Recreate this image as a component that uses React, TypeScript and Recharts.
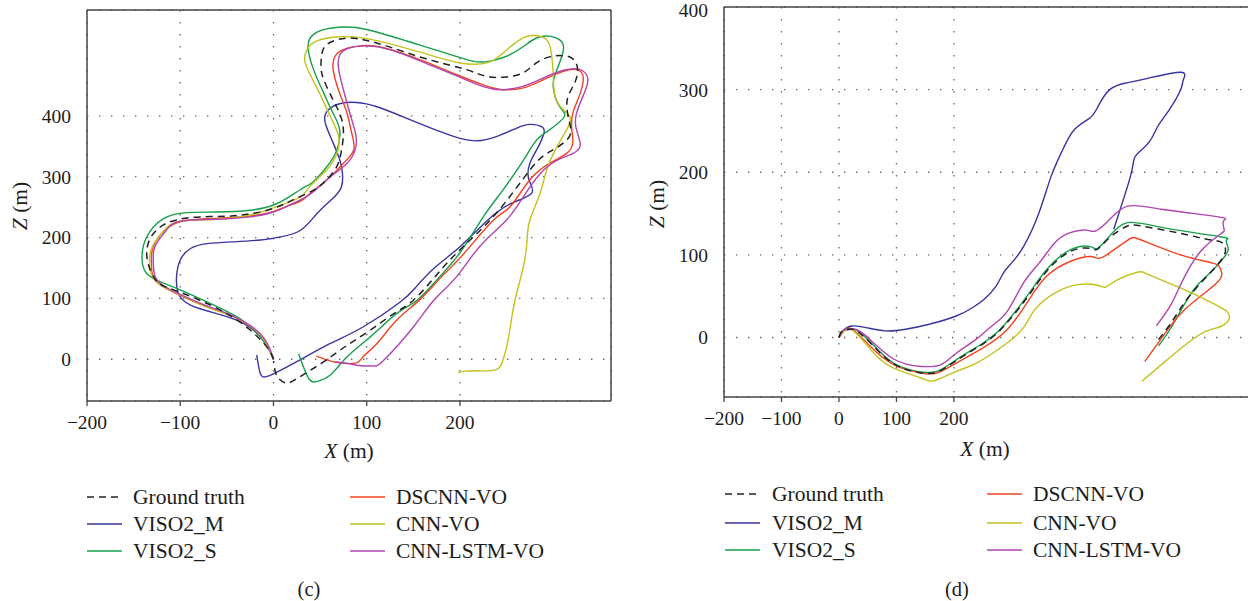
import React from 'react';
import { LineChart, Line, XAxis, YAxis, CartesianGrid, ReferenceLine } from 'recharts';

type Pt = [number, number];

// ---------- Sequence (c): X (m), Z (m) ----------
const cGroundTruth: Pt[] = [
  [0, 0], [-7, 20], [-25, 48], [-50, 75], [-79, 97], [-107, 114], [-123, 125], [-132, 146], [-136, 174],
  [-132, 199], [-121, 218], [-104, 229], [-79, 234], [-50, 235], [-25, 239], [0, 248], [21, 262], [43, 278],
  [57, 295], [68, 317], [73, 344], [75, 377], [71, 404], [64, 426], [54, 459], [51, 481], [52, 503], [57, 517],
  [68, 525], [82, 528], [100, 524], [125, 513], [161, 495], [200, 479], [218, 470], [232, 464], [250, 464],
  [268, 471], [282, 487], [296, 497], [309, 499], [320, 495], [326, 479], [323, 454], [315, 426], [317, 393],
  [318, 368], [306, 350], [293, 338], [275, 311], [239, 240], [200, 180], [174, 137], [150, 97], [129, 75],
  [104, 48], [79, 23], [54, -4], [27, -30], [14, -39], [4, -28], [0, -3],
];
const cViso2M: Pt[] = [
  [0, 0], [-11, 31], [-32, 59], [-61, 75], [-89, 89], [-102, 108], [-104, 135], [-100, 163], [-89, 182],
  [-71, 190], [-43, 193], [-14, 196], [7, 201], [29, 212], [47, 240], [62, 262], [73, 284], [73, 316],
  [68, 341], [61, 366], [55, 393], [59, 410], [71, 420], [89, 422], [111, 415], [143, 396], [179, 374],
  [200, 363], [218, 359], [239, 366], [261, 380], [275, 386], [288, 382], [290, 371], [284, 349], [275, 322],
  [274, 295], [277, 273], [255, 256], [230, 229], [200, 185], [174, 152], [153, 119], [136, 94], [96, 53],
  [61, 26], [25, -4], [0, -24], [-9, -29], [-14, -24], [-18, 7],
];
const cViso2S: Pt[] = [
  [0, 0], [-2, 9], [-14, 37], [-36, 67], [-68, 92], [-100, 114], [-118, 125], [-136, 141], [-141, 168],
  [-136, 201], [-118, 231], [-93, 241], [-61, 242], [-25, 245], [4, 256], [29, 279], [42, 291], [57, 316],
  [68, 344], [71, 377], [64, 404], [54, 437], [43, 476], [37, 514], [43, 534], [57, 543], [75, 546],
  [100, 542], [143, 523], [179, 506], [214, 490], [232, 490], [250, 498], [268, 514], [282, 528], [296, 531],
  [307, 525], [311, 509], [304, 476], [300, 448], [307, 415], [312, 399], [296, 377], [282, 360], [268, 327],
  [246, 278], [225, 234], [200, 175], [175, 130], [154, 97], [132, 75], [104, 37], [79, 4], [61, -26],
  [48, -36], [38, -32], [27, 9],
];
const cDscnnVo: Pt[] = [
  [0, 0], [-14, 40], [-43, 70], [-71, 86], [-100, 105], [-118, 119], [-129, 135], [-131, 163], [-129, 185],
  [-118, 210], [-100, 226], [-71, 231], [-36, 234], [-7, 240], [14, 251], [29, 260], [39, 272], [61, 300],
  [75, 322], [86, 344], [84, 371], [79, 404], [71, 437], [64, 476], [66, 498], [75, 509], [93, 515],
  [118, 512], [161, 490], [196, 468], [225, 451], [246, 443], [268, 446], [289, 459], [311, 473], [325, 476],
  [332, 465], [329, 437], [321, 404], [320, 377], [321, 355], [314, 338], [296, 322], [275, 295], [254, 251],
  [236, 229], [205, 175], [180, 135], [157, 98], [132, 64], [111, 26], [96, 4], [89, -6], [71, -6], [57, -1],
  [46, 5],
];
const cCnnVo: Pt[] = [
  [0, 0], [-14, 40], [-43, 70], [-72, 86], [-100, 106], [-119, 120], [-130, 137], [-133, 163], [-129, 188],
  [-117, 212], [-100, 227], [-61, 230], [-25, 237], [4, 251], [29, 267], [39, 284], [57, 311], [68, 338],
  [70, 366], [61, 399], [46, 448], [34, 487], [36, 509], [46, 523], [71, 530], [107, 525], [161, 503],
  [200, 487], [229, 487], [246, 503], [264, 525], [279, 532], [293, 525], [298, 503], [300, 470], [302, 432],
  [311, 410], [318, 399], [316, 382], [304, 349], [293, 311], [286, 273], [275, 229], [272, 196], [268, 152],
  [259, 97], [254, 53], [250, 20], [246, -2], [239, -17], [220, -19], [204, -20], [198, -22],
];
const cCnnLstmVo: Pt[] = [
  [0, 0], [-13, 40], [-42, 70], [-70, 87], [-99, 106], [-117, 120], [-127, 136], [-129, 163], [-127, 186],
  [-116, 210], [-100, 227], [-61, 230], [-25, 234], [0, 242], [18, 254], [39, 271], [61, 300], [79, 322],
  [88, 347], [88, 371], [82, 404], [75, 443], [70, 476], [71, 500], [82, 512], [100, 515], [125, 509],
  [161, 488], [196, 466], [225, 448], [246, 443], [268, 449], [289, 462], [311, 475], [329, 476], [337, 462],
  [334, 440], [325, 404], [325, 377], [329, 352], [321, 338], [304, 327], [286, 305], [268, 267], [250, 229],
  [221, 185], [196, 135], [172, 97], [150, 53], [118, -2], [107, -11], [96, -11], [80, -7], [66, -4],
];

// ---------- Sequence (d): X (m), Z (m) ----------
const dGroundTruth: Pt[] = [
  [0, 0], [6, 8], [20, 10], [33, 7], [61, -11], [95, -32], [136, -42], [170, -42], [204, -28], [252, -7],
  [286, 13], [327, 48], [361, 80], [402, 104], [437, 108], [450, 107], [471, 121], [499, 134], [526, 135],
  [594, 126], [640, 119], [663, 116], [671, 110], [669, 98], [640, 74], [605, 46], [580, 20], [552, -6],
];
const dViso2M: Pt[] = [
  [0, 0], [10, 10], [23, 14], [47, 12], [81, 8], [116, 10], [157, 16], [204, 26], [232, 36], [252, 46],
  [273, 62], [286, 78], [300, 90], [321, 110], [348, 151], [369, 195], [389, 227], [410, 252], [437, 266],
  [451, 280], [471, 300], [499, 308], [539, 314], [595, 321], [599, 312], [595, 301], [575, 276], [555, 256],
  [540, 237], [520, 223], [513, 215], [507, 195], [491, 159], [478, 131],
];
const dViso2S: Pt[] = [
  [0, 0], [6, 8], [20, 10], [33, 8], [61, -10], [95, -31], [136, -41], [170, -41], [204, -27], [252, -6],
  [286, 14], [327, 50], [361, 82], [402, 106], [437, 110], [450, 108], [471, 123], [502, 139], [564, 133],
  [663, 122], [674, 118], [677, 108], [671, 98], [651, 82], [622, 62], [599, 38], [576, 10], [556, -10],
];
const dDscnnVo: Pt[] = [
  [0, 0], [10, 9], [25, 9], [61, -15], [102, -35], [143, -43], [170, -43], [204, -31], [252, -12], [293, 10],
  [327, 42], [361, 74], [402, 92], [437, 98], [454, 96], [478, 106], [505, 119], [526, 118], [594, 100],
  [650, 90], [663, 84], [666, 76], [660, 68], [640, 56], [599, 32], [564, 2], [532, -29],
];
const dCnnVo: Pt[] = [
  [0, 0], [8, 7], [25, 8], [61, -19], [95, -37], [143, -49], [167, -52], [204, -41], [239, -31], [286, -10],
  [321, 12], [341, 34], [376, 54], [416, 64], [451, 63], [464, 61], [485, 70], [519, 79], [539, 76],
  [594, 60], [649, 42], [674, 32], [679, 26], [677, 20], [663, 13], [640, 8], [608, -6], [564, -31], [527, -53],
];
const dCnnLstmVo: Pt[] = [
  [0, 0], [10, 10], [27, 10], [47, 2], [95, -26], [143, -35], [177, -33], [204, -19], [239, -2], [266, 14],
  [293, 32], [321, 66], [348, 90], [376, 115], [402, 127], [430, 130], [447, 129], [471, 143], [502, 159],
  [564, 155], [660, 146], [669, 141], [670, 131], [663, 125], [634, 108], [611, 86], [593, 62], [576, 38],
  [552, 14],
];

const seriesNames = ['Ground truth', 'VISO2_M', 'VISO2_S', 'DSCNN-VO', 'CNN-VO', 'CNN-LSTM-VO'];
const seriesColors = ['#222222', '#3a34a2', '#15a04b', '#f2421f', '#c3c21d', '#b143b3'];
const xTicks = [-200, -100, 0, 100, 200];
const yTicks = [0, 100, 200, 300, 400];

const cSeries = [cGroundTruth, cViso2M, cViso2S, cDscnnVo, cCnnVo, cCnnLstmVo];
const dSeries = [dGroundTruth, dViso2M, dViso2S, dDscnnVo, dCnnVo, dCnnLstmVo];

const FONT = '"Liberation Serif", "DejaVu Serif", serif';
const INK = '#1c1c1c';
const AXIS = '#444';

const toRows = (pts: Pt[]) => pts.map(([x, z]) => ({ x, z }));
const fmt = (v: number) => (v < 0 ? '\u2212' + Math.abs(v) : String(v));

// Y tick text kept inside the picture when it sits on the top edge
function YTick(props: any) {
  const { x, y, payload } = props;
  const ty = Math.max(y, 10);
  return (
    <text
      x={x}
      y={ty}
      dy="0.355em"
      textAnchor="end"
      fontFamily={FONT}
      fontSize={19.5}
      fill={INK}
    >
      {fmt(payload.value)}
    </text>
  );
}

type ChartProps = {
  series: Pt[][];
  xDomain: [number, number];
  yDomain: [number, number];
  width: number;
  height: number;
  margin: { top: number; right: number; bottom: number; left: number };
  rightBorder: boolean;
};

function TrajectoryChart({ series, xDomain, yDomain, width, height, margin, rightBorder }: ChartProps) {
  const tickStyle = { fontFamily: FONT, fontSize: 19.5, fill: INK };
  const order = [1, 2, 3, 4, 5, 0];
  return (
    <LineChart width={width} height={height} margin={margin}>
      <CartesianGrid stroke="#666" strokeWidth={1.3} strokeDasharray="1.4 10.6" />
      <XAxis
        type="number"
        dataKey="x"
        domain={xDomain}
        ticks={xTicks}
        interval={0}
        allowDataOverflow
        height={30}
        tickFormatter={fmt}
        tick={tickStyle}
        tickSize={5}
        tickMargin={9}
        tickLine={{ stroke: AXIS, strokeWidth: 1.3 }}
        axisLine={{ stroke: AXIS, strokeWidth: 1.5 }}
      />
      <YAxis
        type="number"
        dataKey="z"
        domain={yDomain}
        ticks={yTicks}
        interval={0}
        allowDataOverflow
        width={60}
        tick={<YTick />}
        tickSize={6}
        tickMargin={10}
        tickLine={false}
        axisLine={{ stroke: AXIS, strokeWidth: 1.5 }}
      />
      <ReferenceLine y={yDomain[1]} stroke={AXIS} strokeWidth={1.5} />
      {rightBorder && <ReferenceLine x={xDomain[1]} stroke={AXIS} strokeWidth={1.5} />}
      {order.map((i) => (
        <Line
          key={seriesNames[i]}
          name={seriesNames[i]}
          data={toRows(series[i])}
          dataKey="z"
          type="natural"
          stroke={seriesColors[i]}
          strokeWidth={i === 0 ? 1.5 : 1.4}
          strokeDasharray={i === 0 ? '7 5' : undefined}
          dot={false}
          activeDot={false}
          isAnimationActive={false}
        />
      ))}
    </LineChart>
  );
}

type LegendProps = { cols: { lineX: number; textX: number }[]; rows: number[] };

function LegendBlock({ cols, rows }: LegendProps) {
  return (
    <>
      {seriesNames.map((name, i) => {
        const col = cols[Math.floor(i / 3)];
        const y = rows[i % 3];
        return (
          <React.Fragment key={name}>
            <svg
              width={36}
              height={6}
              style={{ position: 'absolute', left: col.lineX, top: y - 3 }}
            >
              <line
                x1={0}
                y1={3}
                x2={35}
                y2={3}
                stroke={seriesColors[i]}
                strokeWidth={1.5}
                strokeDasharray={i === 0 ? '7 5' : undefined}
              />
            </svg>
            <div
              style={{
                position: 'absolute',
                left: col.textX,
                top: y - 13,
                height: 26,
                lineHeight: '26px',
                fontFamily: FONT,
                fontSize: 21.5,
                color: INK,
                whiteSpace: 'nowrap',
              }}
            >
              {name}
            </div>
          </React.Fragment>
        );
      })}
    </>
  );
}

const centered = (x: number, y: number, rotate = false): React.CSSProperties => ({
  position: 'absolute',
  left: x,
  top: y,
  transform: `translate(-50%, -50%)${rotate ? ' rotate(-90deg)' : ''}`,
  fontFamily: FONT,
  fontSize: 21.5,
  color: INK,
  whiteSpace: 'nowrap',
  lineHeight: 1,
});

export default function App() {
  return (
    <div
      style={{
        position: 'absolute',
        left: 0,
        top: 0,
        width: 1248,
        height: 601,
        overflow: 'hidden',
        background: '#fff',
      }}
    >
      <div style={{ position: 'absolute', left: 0, top: 0 }}>
        <TrajectoryChart
          series={cSeries}
          xDomain={[-200, 362]}
          yDomain={[-68.6, 574]}
          width={620}
          height={470}
          margin={{ top: 10, right: 9, bottom: 39, left: 27 }}
          rightBorder
        />
      </div>
      <div style={{ position: 'absolute', left: 640, top: 0 }}>
        <TrajectoryChart
          series={dSeries}
          xDomain={[-200, 715]}
          yDomain={[-72, 400]}
          width={620}
          height={470}
          margin={{ top: 7, right: 10, bottom: 43, left: 24 }}
          rightBorder={false}
        />
      </div>

      <div style={centered(21, 206, true)}>
        <i>Z</i> (m)
      </div>
      <div style={centered(349, 452)}>
        <i>X</i> (m)
      </div>
      <div style={centered(658, 204, true)}>
        <i>Z</i> (m)
      </div>
      <div style={centered(985, 450)}>
        <i>X</i> (m)
      </div>

      <LegendBlock
        cols={[
          { lineX: 87, textX: 133 },
          { lineX: 350, textX: 396 },
        ]}
        rows={[496.5, 524, 551]}
      />
      <LegendBlock
        cols={[
          { lineX: 725, textX: 772 },
          { lineX: 987, textX: 1033 },
        ]}
        rows={[493.5, 522.5, 550]}
      />

      <div style={{ ...centered(309, 589), fontSize: 20.5 }}>(c)</div>
      <div style={{ ...centered(957, 589), fontSize: 20.5 }}>(d)</div>
    </div>
  );
}
